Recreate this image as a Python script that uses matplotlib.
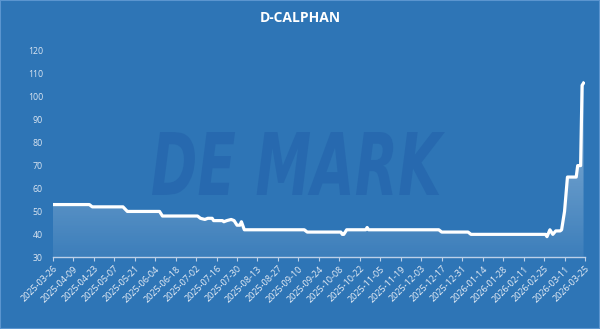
import matplotlib
matplotlib.use("Agg")
import matplotlib.pyplot as plt
import matplotlib.dates as mdates
import numpy as np
import pandas as pd
from matplotlib.textpath import TextPath
from matplotlib.patches import PathPatch, Rectangle
from matplotlib.font_manager import FontProperties
from matplotlib.transforms import Affine2D, IdentityTransform

plt.rcParams['font.family'] = ['Open Sans', 'DejaVu Sans']

title = "D-CALPHAN"
dates = ["2025-03-26", "2025-04-20", "2025-04-22", "2025-05-13", "2025-05-16",
         "2025-06-07", "2025-06-09", "2025-07-03", "2025-07-05", "2025-07-08",
         "2025-07-10", "2025-07-13", "2025-07-14", "2025-07-20", "2025-07-21",
         "2025-07-23", "2025-07-26", "2025-07-28", "2025-07-30", "2025-08-01",
         "2025-08-02", "2025-08-04", "2025-09-14", "2025-09-16", "2025-10-09",
         "2025-10-10", "2025-10-11", "2025-10-13", "2025-10-26", "2025-10-27",
         "2025-10-28", "2025-12-15", "2025-12-17", "2026-01-04", "2026-01-06",
         "2026-02-26", "2026-02-27", "2026-03-01", "2026-03-03", "2026-03-05",
         "2026-03-08", "2026-03-09", "2026-03-11", "2026-03-13", "2026-03-19",
         "2026-03-20", "2026-03-22", "2026-03-23", "2026-03-24"]
values = [53, 53, 52, 52, 50,
          50, 48, 48, 47, 46.5,
          47, 47, 46, 46, 45.5,
          46, 46.5, 46, 44, 44,
          45.5, 42, 42, 41, 41,
          40, 40, 42, 42, 43,
          42, 42, 41, 41, 40,
          40, 39, 42, 40, 41.5,
          41.5, 42, 50, 65, 65,
          70, 70, 105, 106]
tick_start = "2025-03-26"
tick_end = "2026-03-25"
yticks = [30, 40, 50, 60, 70, 80, 90, 100, 110, 120]

bg = "#2E75B6"
x = pd.to_datetime(dates)
y = np.array(values, dtype=float)

fig = plt.figure(figsize=(6.0, 3.29), dpi=100, facecolor=bg)
ax = fig.add_axes([0.088, 0.218, 0.887, 0.627])
ax.set_facecolor(bg)

# watermark
tp = TextPath((0, 0), "DE MARK", prop=FontProperties(family="DejaVu Sans", weight="bold", style="italic"), size=10)
ext = tp.get_extents()
bx0, bx1, by0, by1 = 152, 445, 329 - 195, 329 - 132
sx = (bx1 - bx0) / ext.width
sy = (by1 - by0) / ext.height
tr = Affine2D().translate(-ext.x0, -ext.y0).scale(sx, sy).translate(bx0, by0)
wm = PathPatch(tr.transform_path(tp), facecolor="#2566AD", edgecolor="none", alpha=0.75,
               transform=IdentityTransform(), zorder=0.5)
fig.patches.append(wm)

xn = mdates.date2num(x)
poly = ax.fill_between(x, y, 30, color="none", lw=0)
# gradient fill
grad = np.linspace(0.07, 0.5, 256)
img = np.zeros((256, 1, 4))
img[:, :, :3] = 1.0
img[:, 0, 3] = grad
im = ax.imshow(img, aspect="auto", origin="lower",
               extent=[xn.min(), xn.max(), 30, 110], zorder=1)
clip = PathPatch(poly.get_paths()[0], transform=ax.transData, facecolor="none", edgecolor="none")
ax.add_patch(clip)
im.set_clip_path(clip)

ax.plot(x, y, color="white", lw=2.3, zorder=3, solid_joinstyle="round")

ax.set_ylim(30, 120)
ax.set_xlim(pd.Timestamp(tick_start), pd.Timestamp(tick_end))
ticks = pd.date_range(tick_start, tick_end, freq="14D")
ax.set_xticks(ticks)
ax.set_xticklabels([t.strftime("%Y-%m-%d") for t in ticks], rotation=45,
                   ha="right", rotation_mode="anchor", fontsize=6.5, color="#E8EEF6")
ax.set_yticks(yticks)
ax.set_yticklabels([str(v) for v in yticks], fontsize=6.3, color="#DCE6F2")
for s in ["top", "right", "left"]:
    ax.spines[s].set_visible(False)
ax.spines["bottom"].set_color("#BCD0E8")
ax.spines["bottom"].set_linewidth(1.0)
ax.tick_params(axis="y", length=0, pad=7)
ax.tick_params(axis="x", length=3, color="#BCD0E8", pad=2)

fig.text(0.5, 0.945, title, ha="center", va="center", color="white",
         fontsize=10, fontweight="bold")
fig.patches.append(Rectangle((0, 0), 1, 1, transform=fig.transFigure, facecolor="none",
                             edgecolor="#5B95CF", lw=1.5, zorder=10))

fig.savefig("out.png", dpi=100, facecolor=bg)
